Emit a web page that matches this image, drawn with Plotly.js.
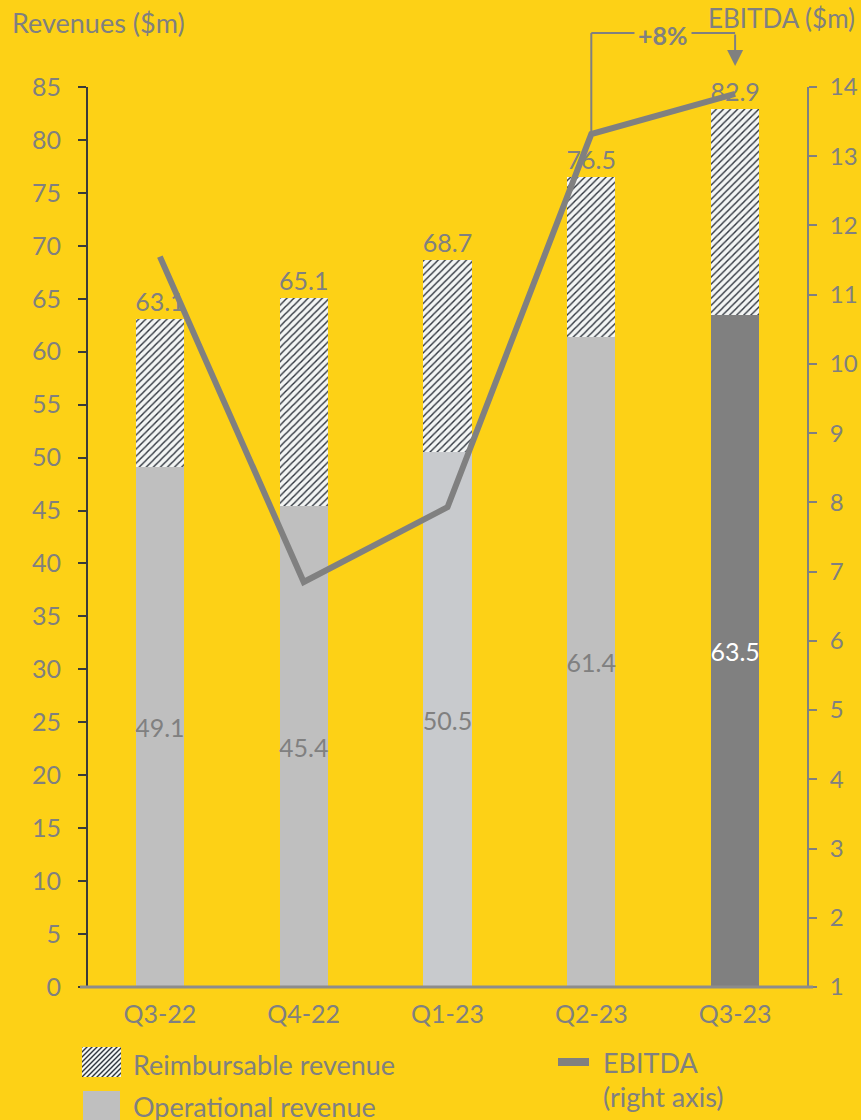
<!DOCTYPE html>
<html>
<head>
<meta charset="utf-8">
<script src="https://cdn.plot.ly/plotly-3.0.1.min.js"></script>
<style>
  html, body { margin: 0; padding: 0; background: #FDD116; }
  #chart { width: 861px; height: 1120px; }
</style>
</head>
<body>
<div id="chart"></div>
<script>
// Quarterly revenue split and EBITDA
const quarters = ['Q3-22', 'Q4-22', 'Q1-23', 'Q2-23', 'Q3-23'];
const operationalRevenue = [49.1, 45.4, 50.5, 61.4, 63.5];
const totalRevenue = [63.1, 65.1, 68.7, 76.5, 82.9];
const ebitda = [11.55, 6.85, 7.93, 13.32, 13.9];
const revenueTicks = [0, 5, 10, 15, 20, 25, 30, 35, 40, 45, 50, 55, 60, 65, 70, 75, 80, 85];
const ebitdaTicks = [1, 2, 3, 4, 5, 6, 7, 8, 9, 10, 11, 12, 13, 14];
const growthLabel = '+8%';

// reimbursable part is the remainder on top of operational revenue
const reimbursableRevenue = totalRevenue.map((t, i) => +(t - operationalRevenue[i]).toFixed(1));

const YELLOW = '#FDD116';
const GREY = '#808080';
const DARK = '#3A3A3A';
const FONT = 'Lato, "Open Sans", sans-serif';

const operationalColors = ['#BFBFBF', '#BFBFBF', '#C8CACD', '#BFBFBF', '#808080'];
const operationalTextColors = [GREY, GREY, GREY, GREY, '#FFFFFF'];

const hatch = { shape: '/', bgcolor: '#F3F5F4', fgcolor: '#2E343D', size: 5, solidity: 0.28 };

const traces = [
  {
    type: 'bar', name: 'Operational revenue', x: quarters, y: operationalRevenue,
    marker: { color: operationalColors, line: { width: 0 } },
    text: operationalRevenue.map(v => v.toFixed(1)),
    textposition: 'inside', insidetextanchor: 'middle', textangle: 0,
    constraintext: 'none',
    insidetextfont: { family: FONT, size: 25, color: operationalTextColors },
    hoverinfo: 'skip', showlegend: false
  },
  {
    type: 'bar', name: 'Reimbursable revenue', x: quarters, y: reimbursableRevenue,
    marker: { color: '#F3F5F4', pattern: hatch, line: { width: 0 } },
    text: totalRevenue.map(v => v.toFixed(1)),
    textposition: 'outside', textangle: 0, constraintext: 'none', cliponaxis: false,
    outsidetextfont: { family: FONT, size: 25, color: GREY },
    hoverinfo: 'skip', showlegend: false
  },
  {
    type: 'scatter', mode: 'lines', name: 'EBITDA', x: quarters, y: ebitda, yaxis: 'y2',
    line: { color: GREY, width: 6 }, cliponaxis: false,
    hoverinfo: 'skip', showlegend: false
  }
];

// paper-coordinate helpers for the plot box (88..807 px wide, 87..987 px tall)
const px = p => (p - 88) / 719;
const py = p => (987 - p) / 900;

const hatchSvg = 'data:image/svg+xml;utf8,' + encodeURIComponent(
  '<svg xmlns="http://www.w3.org/2000/svg" width="39" height="30">' +
  '<defs><pattern id="h" width="5" height="5" patternUnits="userSpaceOnUse">' +
  '<rect width="5" height="5" fill="#F3F5F4"/>' +
  '<path d="M-1,6 L6,-1 M-1,1 L1,-1 M4,6 L6,4" stroke="#2E343D" stroke-width="1.4"/>' +
  '</pattern></defs><rect width="39" height="30" fill="url(#h)"/></svg>');

const layout = {
  width: 861, height: 1120,
  margin: { l: 88, r: 54, t: 87, b: 133, pad: 0 },
  paper_bgcolor: YELLOW, plot_bgcolor: YELLOW,
  barmode: 'stack', bargap: 0.666,
  showlegend: false,
  font: { family: FONT, size: 25, color: GREY },
  xaxis: {
    type: 'category', categoryorder: 'array', categoryarray: quarters,
    showline: false, showgrid: false, zeroline: false, ticks: '',
    tickfont: { family: FONT, size: 25, color: GREY },
    ticklabelstandoff: 10, fixedrange: true
  },
  yaxis: {
    range: [0, 85], tickvals: revenueTicks, showgrid: false, zeroline: false,
    showline: true, linecolor: DARK, linewidth: 2,
    ticks: 'outside', ticklen: 8, tickwidth: 2, tickcolor: DARK,
    tickfont: { family: FONT, size: 25, color: GREY },
    ticklabelstandoff: 12, fixedrange: true
  },
  yaxis2: {
    range: [1, 14], tickvals: ebitdaTicks, overlaying: 'y', side: 'right',
    showgrid: false, zeroline: false,
    showline: true, linecolor: GREY, linewidth: 2,
    ticks: 'outside', ticklen: 8, tickwidth: 2, tickcolor: GREY,
    tickfont: { family: FONT, size: 24, color: GREY },
    ticklabelstandoff: 8, fixedrange: true
  },
  shapes: [
    // baseline
    { type: 'line', xref: 'paper', yref: 'paper', x0: px(80), x1: px(813), y0: 0, y1: 0,
      line: { color: '#8C8C8C', width: 3 }, layer: 'above' },
    // growth bracket from the Q2-23 EBITDA point up and over to Q3-23
    { type: 'line', xref: 'x', yref: 'y2', x0: quarters[3], x1: quarters[3],
      y0: ebitda[3], y1: 14, line: { color: GREY, width: 2 } },
    { type: 'line', xref: 'x', yref: 'paper', x0: quarters[3], x1: quarters[3],
      y0: 1, y1: py(33), line: { color: GREY, width: 2 } },
    { type: 'line', xref: 'x', yref: 'paper', x0: quarters[3], x1: quarters[4],
      y0: py(33), y1: py(33), line: { color: GREY, width: 2 } },
    // legend swatches
    { type: 'rect', xref: 'paper', yref: 'paper', x0: px(83), x1: px(120), y0: py(1091), y1: py(1125),
      fillcolor: '#BFBFBF', line: { width: 0 } },
    { type: 'line', xref: 'paper', yref: 'paper', x0: px(558), x1: px(589), y0: py(1062), y1: py(1062),
      line: { color: GREY, width: 8 } }
  ],
  images: [
    { source: hatchSvg, xref: 'paper', yref: 'paper', x: px(82), y: py(1047),
      sizex: 39 / 719, sizey: 30 / 900, sizing: 'stretch', xanchor: 'left', yanchor: 'top', layer: 'above' }
  ],
  annotations: [
    { text: 'Revenues ($m)', xref: 'paper', yref: 'paper', x: px(10), y: py(23),
      xanchor: 'left', yanchor: 'middle', showarrow: false, font: { family: FONT, size: 27, color: GREY } },
    { text: 'EBITDA ($m)', xref: 'paper', yref: 'paper', x: px(857), y: py(18),
      xanchor: 'right', yanchor: 'middle', showarrow: false, font: { family: FONT, size: 26, color: GREY } },
    { text: '<b>' + growthLabel + '</b>', xref: 'x', yref: 'paper', x: 3.5, y: py(35),
      xanchor: 'center', yanchor: 'middle', showarrow: false, bgcolor: YELLOW, borderpad: 3,
      font: { family: FONT, size: 25, color: GREY } },
    { text: '', xref: 'x', yref: 'paper', x: quarters[4], y: py(66),
      showarrow: true, ax: 0, ay: -33, axref: 'pixel', ayref: 'pixel',
      arrowhead: 2, arrowsize: 1.6, arrowwidth: 2, arrowcolor: GREY, standoff: 0, startstandoff: 0 },
    { text: 'Reimbursable revenue', xref: 'paper', yref: 'paper', x: px(131), y: py(1064),
      xanchor: 'left', yanchor: 'middle', showarrow: false, font: { family: FONT, size: 27, color: GREY } },
    { text: 'Operational revenue', xref: 'paper', yref: 'paper', x: px(131), y: py(1106),
      xanchor: 'left', yanchor: 'middle', showarrow: false, font: { family: FONT, size: 27, color: GREY } },
    { text: 'EBITDA', xref: 'paper', yref: 'paper', x: px(601), y: py(1062),
      xanchor: 'left', yanchor: 'middle', showarrow: false, font: { family: FONT, size: 27, color: GREY } },
    { text: '(right axis)', xref: 'paper', yref: 'paper', x: px(601), y: py(1096),
      xanchor: 'left', yanchor: 'middle', showarrow: false, font: { family: FONT, size: 27, color: GREY } }
  ]
};

Plotly.newPlot('chart', traces, layout, { staticPlot: true, displayModeBar: false });
</script>
</body>
</html>
